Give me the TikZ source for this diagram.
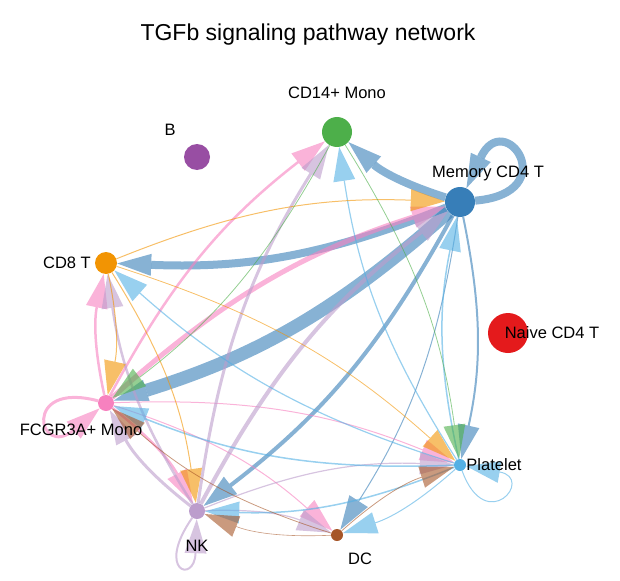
\documentclass[tikz,border=0pt]{standalone}
\usepackage{fontspec}
\setmainfont{Liberation Sans}
\usetikzlibrary{arrows.meta,backgrounds}
\definecolor{cB}{HTML}{984EA3}
\definecolor{cCD14}{HTML}{4DAF4A}
\definecolor{cMem}{HTML}{377EB8}
\definecolor{cNaive}{HTML}{E41A1C}
\definecolor{cPlt}{HTML}{54B0E4}
\definecolor{cDC}{HTML}{A65628}
\definecolor{cNK}{HTML}{BC9DCC}
\definecolor{cFC}{HTML}{F781BF}
\definecolor{cCD8}{HTML}{F29403}
\begin{document}
\begin{tikzpicture}[x=1pt,y=1pt,
  cell/.style={circle,inner sep=0pt,minimum size=#1},
  lab/.style={font=\fontsize{16.5}{18}\selectfont,inner sep=0pt,text height=11.8pt,text depth=0pt},
  link/.style={opacity=0.6,-{Triangle[length=34pt,width=22pt,line width=0pt]}},
  bl/.style={bend left=12}]
\useasboundingbox (0,0) rectangle (620,-580);
\node[font=\fontsize{23}{25}\selectfont,inner sep=0pt,text height=16.5pt,text depth=0pt] (title) at (308,-32) {TGFb signaling pathway network};
% cells
\node[cell=26pt,fill=cB] (b) at (197,-157) {};
\node[cell=30pt,fill=cCD14] (cd14) at (337,-132) {};
\node[cell=30pt,fill=cMem] (mem) at (460,-202) {};
\node[cell=40pt,fill=cNaive] (naive) at (508,-333) {};
\node[cell=12pt,fill=cPlt] (plt) at (460,-465) {};
\node[cell=12pt,fill=cDC] (dc) at (337,-535) {};
\node[cell=16pt,fill=cNK] (nk) at (197,-511) {};
\node[cell=16pt,fill=cFC] (fc) at (106,-403) {};
\node[cell=22pt,fill=cCD8] (cd8) at (106,-263) {};
% labels
\node[lab] (lb) at (170,-130) {B};
\node[lab] (lcd14) at (337,-93) {CD14+ Mono};
\node[lab] (lmem) at (488,-172) {Memory CD4 T};
\node[lab] (lnaive) at (552,-333) {Naive CD4 T};
\node[lab] (lplt) at (494,-465) {Platelet};
\node[lab] (ldc) at (360,-559) {DC};
\node[lab] (lnk) at (197,-546) {NK};
\node[lab] (lfc) at (81,-430) {FCGR3A+ Mono};
\node[lab] (lcd8) at (67,-263) {CD8 T};
\begin{scope}[on background layer]
% Memory CD4 T
\draw[link,cMem,line width=8pt] (mem) to[bl] (cd14);
\draw[link,cMem,line width=8pt] (mem) to[bl] (cd8);
\draw[link,cMem,line width=13pt] (mem) to[bl] (fc);
\draw[link,cMem,line width=4pt] (mem) to[bl] (nk);
\draw[link,cMem,line width=2pt] (mem) to[bl] (plt);
\draw[link,cMem,line width=1pt] (mem) to[bl] (dc);
\draw[link,cMem,line width=8pt] (mem.5) .. controls +(5:90) and +(65:90) .. (mem.65);
% FCGR3A+ Mono
\draw[link,cFC,line width=5pt] (fc) to[bl] (mem);
\draw[link,cFC,line width=2.5pt] (fc) to[bl] (cd14);
\draw[link,cFC,line width=2.5pt] (fc) to[bl] (cd8);
\draw[link,cFC,line width=2.5pt] (fc) to[bl] (nk);
\draw[link,cFC,line width=1pt] (fc) to[bl] (dc);
\draw[link,cFC,line width=1pt] (fc) to[bl] (plt);
\draw[link,cFC,line width=3pt] (fc.165) .. controls +(165:80) and +(220:80) .. (fc.220);
% NK
\draw[link,cNK,line width=4pt] (nk) to[bl] (mem);
\draw[link,cNK,line width=3pt] (nk) to[bl] (cd14);
\draw[link,cNK,line width=2.5pt] (nk) to[bl] (cd8);
\draw[link,cNK,line width=3pt] (nk) to[bl] (fc);
\draw[link,cNK,line width=1.2pt] (nk) to[bl] (dc);
\draw[link,cNK,line width=1.2pt] (nk) to[bl] (plt);
\draw[link,cNK,line width=2pt] (nk.235) .. controls +(235:65) and +(268:65) .. (nk.268);
% Platelet
\draw[link,cPlt,line width=1.5pt] (plt) to[bl] (mem);
\draw[link,cPlt,line width=1.2pt] (plt) to[bl] (cd14);
\draw[link,cPlt,line width=1.2pt] (plt) to[bl] (cd8);
\draw[link,cPlt,line width=1.5pt] (plt) to[bl] (fc);
\draw[link,cPlt,line width=1.5pt] (plt) to[bl] (nk);
\draw[link,cPlt,line width=1pt] (plt) to[bl] (dc);
\draw[link,cPlt,line width=1pt] (plt.-70) .. controls +(-70:70) and +(-10:70) .. (plt.-10);
% CD8 T
\draw[link,cCD8,line width=1pt] (cd8) to[bl] (mem);
\draw[link,cCD8,line width=1pt] (cd8) to[bl] (fc);
\draw[link,cCD8,line width=1pt] (cd8) to[bl] (nk);
\draw[link,cCD8,line width=0.8pt] (cd8) to[bl] (plt);
% CD14+ Mono
\draw[link,cCD14,line width=0.8pt] (cd14) to[bl] (fc);
\draw[link,cCD14,line width=0.8pt] (cd14) to[bl] (plt);
% DC
\draw[link,cDC,line width=0.8pt] (dc) to[bl] (fc);
\draw[link,cDC,line width=0.8pt] (dc) to[bl] (plt);
\draw[link,cDC,line width=0.6pt] (dc) to[bl] (nk);
\end{scope}
\end{tikzpicture}
\end{document}
